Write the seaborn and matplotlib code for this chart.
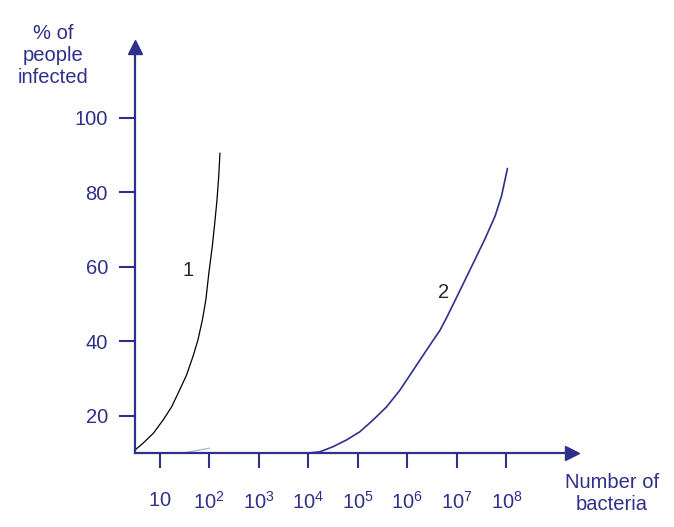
import numpy as np
import pandas as pd
import matplotlib
matplotlib.use('Agg')
import matplotlib.pyplot as plt
import seaborn as sns

sns.set_style('white')
plt.rcParams['font.family'] = ['Liberation Sans', 'DejaVu Sans']
plt.rcParams['mathtext.fontset'] = 'custom'
plt.rcParams['mathtext.rm'] = 'Liberation Sans'

NAVY = '#2f2f8c'

# data (log10 of number of bacteria, % infected)
curve1_log = [0.50, 0.66, 0.87, 1.07, 1.24, 1.40, 1.54, 1.67, 1.77, 1.86,
              1.93, 1.99, 2.06, 2.11, 2.155, 2.19, 2.215]
curve1_pct = [10.8, 12.6, 15.3, 18.9, 22.4, 26.9, 30.9, 35.9, 40.3, 45.7,
              51.1, 58.2, 65.4, 71.7, 77.9, 84.2, 90.5]

curve2_log = [4.00, 4.23, 4.50, 4.77, 5.04, 5.31, 5.58, 5.85, 6.12, 6.39,
              6.66, 6.79, 7.06, 7.33, 7.57, 7.77, 7.90, 8.02]
curve2_pct = [10.0, 10.3, 11.7, 13.5, 15.7, 18.9, 22.4, 26.9, 32.3, 37.7,
              43.0, 46.3, 53.6, 61.0, 67.6, 73.6, 79.0, 86.4]

stray_log = [1.47, 2.01]
stray_pct = [10.0, 11.3]

x_tick_exp = [1, 2, 3, 4, 5, 6, 7, 8]
x_tick_labels = ['$10$', '$10^2$', '$10^3$', '$10^4$', '$10^5$', '$10^6$', '$10^7$', '$10^8$']
y_ticks = [20, 40, 60, 80, 100]

df1 = pd.DataFrame({'bacteria': np.power(10.0, curve1_log), 'pct': curve1_pct})
df2 = pd.DataFrame({'bacteria': np.power(10.0, curve2_log), 'pct': curve2_pct})
df3 = pd.DataFrame({'bacteria': np.power(10.0, stray_log), 'pct': stray_pct})

fig = plt.figure(figsize=(6.74, 5.27), dpi=100)
ax = fig.add_axes([135 / 674, 74 / 527, (572 - 135) / 674, (453 - 47) / 527])

sns.lineplot(data=df1, x='bacteria', y='pct', color='black', lw=0.9, ax=ax,
             sort=False, solid_joinstyle='round')
sns.lineplot(data=df2, x='bacteria', y='pct', color=NAVY, lw=1.2, ax=ax,
             sort=False, solid_joinstyle='round')
sns.lineplot(data=df3, x='bacteria', y='pct', color=NAVY, lw=1.0, alpha=0.35, ax=ax, sort=False)

ax.set_xscale('log')
ax.set_xlim(10 ** 0.5, 10 ** 9.323)
ax.set_ylim(10, 119)
ax.set_xticks([10.0 ** e for e in x_tick_exp])
ax.set_xticklabels(x_tick_labels)
ax.xaxis.set_minor_locator(matplotlib.ticker.NullLocator())
ax.set_yticks(y_ticks)
ax.set_xlabel('')
ax.set_ylabel('')

for s in ['top', 'right']:
    ax.spines[s].set_visible(False)
for s in ['left', 'bottom']:
    ax.spines[s].set_color(NAVY)
    ax.spines[s].set_linewidth(1.6)

ax.tick_params(axis='x', direction='out', length=11, width=1.5, color=NAVY,
               labelcolor=NAVY, labelsize=14.5, pad=16, bottom=True)
ax.tick_params(axis='y', direction='out', length=11.5, width=1.5, color=NAVY,
               labelcolor=NAVY, labelsize=14.5, pad=8, left=True)

# arrow heads
ax.plot(1, 0, '>', ms=10, color=NAVY, transform=ax.transAxes, clip_on=False)
ax.plot(0, 1, '^', ms=10, color=NAVY, transform=ax.transAxes, clip_on=False)

ax.text(10 ** 1.57, 59.1, '1', fontsize=14.5, ha='center', va='center')
ax.text(10 ** 6.72, 53.2, '2', fontsize=14.5, ha='center', va='center')

fig.text(53 / 674, 1 - 56 / 527, '% of\npeople\ninfected', color=NAVY, fontsize=14.5,
         ha='center', va='center', linespacing=1.2)
fig.text(612 / 674, 1 - 494 / 527, 'Number of\nbacteria', color=NAVY, fontsize=14.5,
         ha='center', va='center', linespacing=1.2)

fig.savefig('out.png', dpi=100)
